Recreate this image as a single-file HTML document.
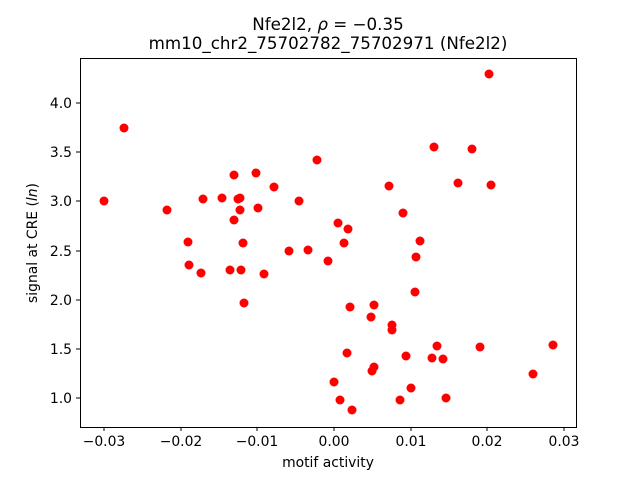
<!DOCTYPE html>
<html><head><meta charset="utf-8"><style>body{margin:0;background:#fff}svg{display:block}</style></head><body>
<svg width="640" height="480" xmlns="http://www.w3.org/2000/svg" font-family="DejaVu Sans, Liberation Sans, sans-serif">
<rect width="640" height="480" fill="#fff"/>
<text x="328" y="30" font-size="16.7" text-anchor="middle">Nfe2l2, <tspan font-style="italic">ρ</tspan> = −0.35</text>
<text x="328" y="49" font-size="16.7" text-anchor="middle">mm10_chr2_75702782_75702971 (Nfe2l2)</text>
<g fill="red">
<circle cx="104" cy="201" r="4.5"/><circle cx="124" cy="128" r="4.5"/><circle cx="167" cy="210" r="4.5"/><circle cx="188" cy="242" r="4.5"/><circle cx="189" cy="265" r="4.5"/><circle cx="201" cy="273" r="4.5"/><circle cx="203" cy="199" r="4.5"/><circle cx="222" cy="198" r="4.5"/><circle cx="230" cy="270" r="4.5"/><circle cx="234" cy="175" r="4.5"/><circle cx="234" cy="220" r="4.5"/><circle cx="238" cy="199" r="4.5"/><circle cx="240" cy="198" r="4.5"/><circle cx="240" cy="210" r="4.5"/><circle cx="241" cy="270" r="4.5"/><circle cx="243" cy="243" r="4.5"/><circle cx="244" cy="303" r="4.5"/><circle cx="256" cy="173" r="4.5"/><circle cx="258" cy="208" r="4.5"/><circle cx="264" cy="274" r="4.5"/><circle cx="274" cy="187" r="4.5"/><circle cx="289" cy="251" r="4.5"/><circle cx="299" cy="201" r="4.5"/><circle cx="308" cy="250" r="4.5"/><circle cx="317" cy="160" r="4.5"/><circle cx="328" cy="261" r="4.5"/><circle cx="338" cy="223" r="4.5"/><circle cx="344" cy="243" r="4.5"/><circle cx="348" cy="229" r="4.5"/><circle cx="350" cy="307" r="4.5"/><circle cx="347" cy="353" r="4.5"/><circle cx="334" cy="382" r="4.5"/><circle cx="340" cy="400" r="4.5"/><circle cx="352" cy="410" r="4.5"/><circle cx="371" cy="317" r="4.5"/><circle cx="374" cy="367" r="4.5"/><circle cx="372" cy="371" r="4.5"/><circle cx="374" cy="305" r="4.5"/><circle cx="389" cy="186" r="4.5"/><circle cx="392" cy="325" r="4.5"/><circle cx="392" cy="330" r="4.5"/><circle cx="403" cy="213" r="4.5"/><circle cx="406" cy="356" r="4.5"/><circle cx="400" cy="400" r="4.5"/><circle cx="411" cy="388" r="4.5"/><circle cx="415" cy="292" r="4.5"/><circle cx="416" cy="257" r="4.5"/><circle cx="420" cy="241" r="4.5"/><circle cx="432" cy="358" r="4.5"/><circle cx="434" cy="147" r="4.5"/><circle cx="437" cy="346" r="4.5"/><circle cx="443" cy="359" r="4.5"/><circle cx="446" cy="398" r="4.5"/><circle cx="472" cy="149" r="4.5"/><circle cx="480" cy="347" r="4.5"/><circle cx="458" cy="183" r="4.5"/><circle cx="489" cy="74" r="4.5"/><circle cx="491" cy="185" r="4.5"/><circle cx="533" cy="374" r="4.5"/><circle cx="553" cy="345" r="4.5"/>
</g>
<rect x="80.5" y="58.5" width="496" height="369" fill="none" stroke="#000" stroke-width="1"/>
<g stroke="#000" stroke-width="1">
<line x1="104" y1="427" x2="104" y2="431"/><line x1="181" y1="427" x2="181" y2="431"/><line x1="257" y1="427" x2="257" y2="431"/><line x1="334" y1="427" x2="334" y2="431"/><line x1="411" y1="427" x2="411" y2="431"/><line x1="487" y1="427" x2="487" y2="431"/><line x1="564" y1="427" x2="564" y2="431"/>
<line x1="76" y1="103" x2="80" y2="103"/><line x1="76" y1="152" x2="80" y2="152"/><line x1="76" y1="201" x2="80" y2="201"/><line x1="76" y1="251" x2="80" y2="251"/><line x1="76" y1="300" x2="80" y2="300"/><line x1="76" y1="349" x2="80" y2="349"/><line x1="76" y1="398" x2="80" y2="398"/>
</g>
<g font-size="13.9" text-anchor="middle">
<text x="104" y="446">−0.03</text><text x="181" y="446">−0.02</text><text x="257" y="446">−0.01</text><text x="334" y="446">0.00</text><text x="411" y="446">0.01</text><text x="487" y="446">0.02</text><text x="564" y="446">0.03</text>
</g>
<g font-size="13.9" text-anchor="end">
<text x="72" y="108">4.0</text><text x="72" y="157">3.5</text><text x="72" y="206">3.0</text><text x="72" y="256">2.5</text><text x="72" y="305">2.0</text><text x="72" y="354">1.5</text><text x="72" y="403">1.0</text>
</g>
<text x="328" y="467" font-size="13.9" text-anchor="middle">motif activity</text>
<text transform="translate(37,243) rotate(-90)" font-size="13.9" text-anchor="middle">signal at CRE (<tspan font-style="italic">ln</tspan>)</text>
</svg>
</body></html>
